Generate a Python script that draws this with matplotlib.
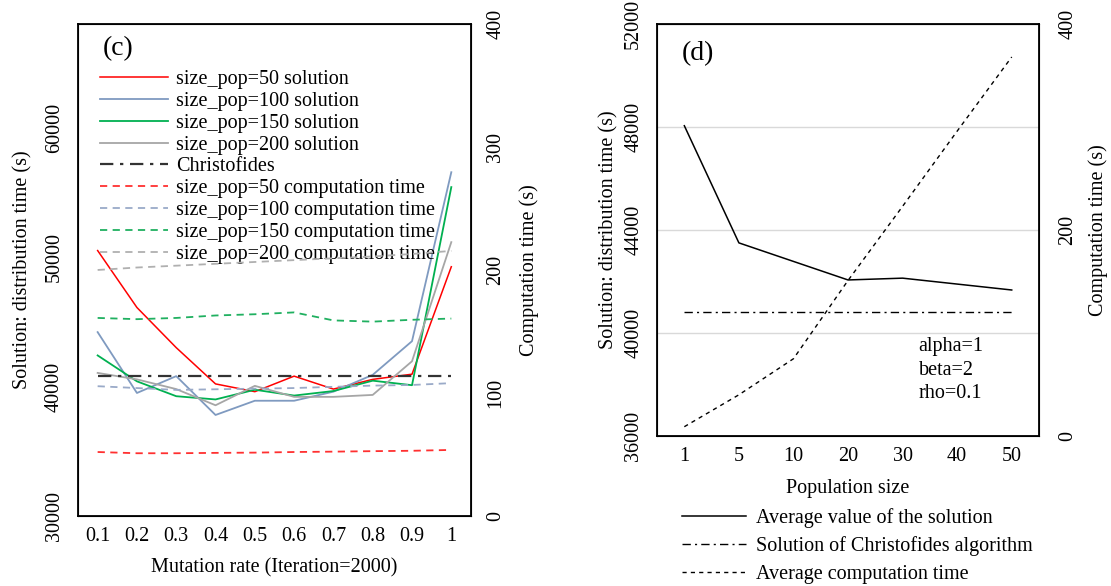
import numpy as np
import matplotlib
matplotlib.use("Agg")
import matplotlib.pyplot as plt

plt.rcParams['font.family'] = ['Liberation Serif', 'DejaVu Serif']
plt.rcParams['font.size'] = 14.5

# ---- panel (c) data ----
mutation_rates = ["0.1", "0.2", "0.3", "0.4", "0.5", "0.6", "0.7", "0.8", "0.9", "1"]
sol_50 = [50500, 46100, 43000, 40200, 39600, 40800, 39800, 40550, 40950, 49250]
sol_100 = [44200, 39500, 40800, 37800, 38900, 38900, 39600, 40900, 43500, 56550]
sol_150 = [42400, 40400, 39250, 39000, 39750, 39300, 39650, 40450, 40100, 55400]
sol_200 = [41050, 40550, 39800, 38550, 40050, 39200, 39200, 39350, 41950, 51150]
christofides_c = 40800
time_50 = [52, 51, 51, 51.3, 51.5, 52, 52.3, 52.7, 53, 53.7]
time_100 = [105.5, 104, 102.5, 103, 103.5, 104, 105, 106, 106.5, 108]
time_150 = [161, 160, 161, 163, 164, 165.5, 159, 158, 159.5, 160.5]
time_200 = [200, 202, 203.5, 205, 206.5, 208, 209.5, 211, 213, 215.5]

# ---- panel (d) data ----
pop_sizes = ["1", "5", "10", "20", "30", "40", "50"]
avg_solution = [48050, 43500, 42780, 42060, 42130, 41900, 41670]
christofides_d = 40800
avg_time = [9, 40, 75, 151, 223, 296, 368]

red = "#FF0000"
blue = "#7F9AC0"
green = "#00B050"
gray = "#A6A6A6"

fig = plt.figure(figsize=(11.11, 5.86), dpi=100)

# ================= panel (c) =================
ax1 = fig.add_axes([0.0702, 0.1195, 0.3537, 0.8396])
ax1b = ax1.twinx()
x1 = np.arange(len(mutation_rates))

l1, = ax1.plot(x1, sol_50, color=red, lw=1.1, label="size_pop=50 solution")
l2, = ax1.plot(x1, sol_100, color=blue, lw=1.3, label="size_pop=100 solution")
l3, = ax1.plot(x1, sol_150, color=green, lw=1.3, label="size_pop=150 solution")
l4, = ax1.plot(x1, sol_200, color=gray, lw=1.3, label="size_pop=200 solution")
l5, = ax1.plot(x1, [christofides_c] * len(x1), color="#333333", lw=1.6,
               ls=(0, (6, 3, 1.5, 3)), label="Christofides")
d1, = ax1b.plot(x1, time_50, color="#FF3030", lw=1.3, ls=(0, (4, 3)),
                label="size_pop=50 computation time")
d2, = ax1b.plot(x1, time_100, color="#9AAAC8", lw=1.3, ls=(0, (4, 3)),
                label="size_pop=100 computation time")
d3, = ax1b.plot(x1, time_150, color="#20B060", lw=1.3, ls=(0, (4, 3)),
                label="size_pop=150 computation time")
d4, = ax1b.plot(x1, time_200, color="#B0B0B0", lw=1.3, ls=(0, (4, 3)),
                label="size_pop=200 computation time")

ax1.set_xlim(-0.5, 9.5)
ax1.set_ylim(30000, 68000)
ax1.set_yticks([30000, 40000, 50000, 60000])
ax1b.set_ylim(0, 400)
ax1b.set_yticks([0, 100, 200, 300, 400])
ax1.set_xticks(x1)
ax1.set_xticklabels(mutation_rates)
ax1.tick_params(axis='x', length=0, pad=8)
ax1.tick_params(axis='y', length=0, pad=10)
ax1b.tick_params(axis='y', length=0, pad=11)
for lab in ax1.get_yticklabels() + ax1b.get_yticklabels():
    lab.set_rotation(90)
    lab.set_va('center')
ax1.set_xlabel("Mutation rate (Iteration=2000)", labelpad=9)
ax1.set_ylabel("Solution: distribution time (s)", labelpad=9)
ax1b.set_ylabel("Computation time (s)", labelpad=10)
for sp in ax1b.spines.values():
    sp.set_linewidth(1.3)
ax1.text(0.063, 0.975, "(c)", transform=ax1.transAxes, fontsize=20, va='top')
ax1.legend(handles=[l1, l2, l3, l4, l5, d1, d2, d3, d4], loc='upper left',
           bbox_to_anchor=(0.055, 0.907), frameon=False,
           handlelength=3.4, handletextpad=0.4, labelspacing=0.14,
           borderaxespad=0, borderpad=0)

# ================= panel (d) =================
ax2 = fig.add_axes([0.5914, 0.256, 0.3438, 0.703])
ax2b = ax2.twinx()
x2 = np.arange(len(pop_sizes))

ax2.grid(axis='y', color="#D9D9D9", lw=1)
ax2.set_axisbelow(True)
m1, = ax2.plot(x2, avg_solution, color="black", lw=1.1,
               label="Average value of the solution")
m2, = ax2.plot(x2, [christofides_d] * len(x2), color="black", lw=1,
               ls=(0, (6, 3, 1.5, 3)), label="Solution of Christofides algorithm")
m3, = ax2b.plot(x2, avg_time, color="black", lw=1, ls=(0, (3, 3)),
                label="Average computation time")

ax2.set_xlim(-0.5, 6.5)
ax2.set_ylim(36000, 52000)
ax2.set_yticks([36000, 40000, 44000, 48000, 52000])
ax2b.set_ylim(0, 400)
ax2b.set_yticks([0, 200, 400])
ax2.set_xticks(x2)
ax2.set_xticklabels(pop_sizes)
ax2.tick_params(axis='x', length=0, pad=8)
ax2.tick_params(axis='y', length=0, pad=10)
ax2b.tick_params(axis='y', length=0, pad=14)
for lab in ax2.get_yticklabels() + ax2b.get_yticklabels():
    lab.set_rotation(90)
    lab.set_va('center')
ax2.set_xlabel("Population size", labelpad=9)
ax2.set_ylabel("Solution: distribution time (s)", labelpad=4)
ax2b.set_ylabel("Computation time (s)", labelpad=8)
for sp in ax2b.spines.values():
    sp.set_linewidth(1.3)
ax2.text(0.065, 0.958, "(d)", transform=ax2.transAxes, fontsize=20, va='top')
ax2.text(0.685, 0.16, "alpha=1\nbeta=2\nrho=0.1", transform=ax2.transAxes,
         va='center', linespacing=1.3)
ax2.legend(handles=[m1, m2, m3], loc='upper left', bbox_to_anchor=(0.065, -0.175),
           frameon=False, handlelength=3.2, handletextpad=0.5,
           labelspacing=0.42, borderaxespad=0, borderpad=0)

fig.savefig("out.png", dpi=100)
